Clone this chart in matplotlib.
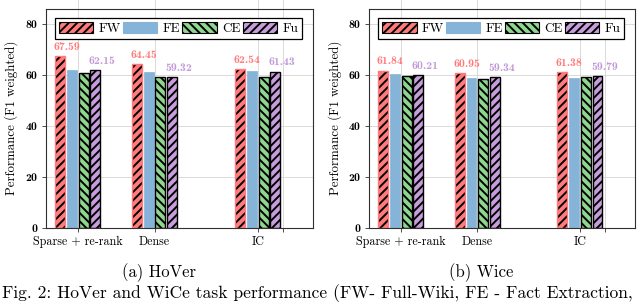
import matplotlib
matplotlib.use("Agg")
import matplotlib.pyplot as plt
from matplotlib.patches import Patch
import numpy as np

# ---------------- data ----------------
categories = ["Sparse + re-rank", "Dense", "IC", ""]
series_names = ["FW", "FE", "CE", "Fu"]

hover_fw = [67.59, 64.45, 62.54]
hover_fe = [62.0, 61.1, 61.8]
hover_ce = [60.9, 59.4, 59.2]
hover_fu = [62.15, 59.32, 61.43]

wice_fw = [61.84, 60.95, 61.38]
wice_fe = [60.4, 59.0, 59.1]
wice_ce = [59.7, 58.5, 59.4]
wice_fu = [60.21, 59.34, 59.79]

yticks = [0, 20, 40, 60, 80]
ylabel = "Performance (F1 weighted)"
sub_captions = ["(a) HoVer", "(b) Wice"]
fig_caption = "Fig. 2: HoVer and WiCe task performance (FW- Full-Wiki, FE - Fact Extraction,"

# ---------------- style ----------------
plt.rcParams["font.family"] = ["cmr10", "DejaVu Serif"]
plt.rcParams["axes.formatter.use_mathtext"] = True
plt.rcParams["hatch.linewidth"] = 1.4

group_pos = np.array([0.0, 1.0, 2.34, 2.67])
bar_w = 0.13
pitch = 0.153
C_FW = "#ff7b7b"
C_FE = "#86b3d8"
C_CE = "#8fd68f"
C_FU = "#c79ddc"
C_FU_TXT = "#c29ad8"
GRID = "#d4d4d4"
SPINE = "#303030"
BOLD = ["cmb10", "DejaVu Serif"]
H_FWD = "////"
H_BWD = "\\\\\\\\"

fig = plt.figure(figsize=(6.4, 3.03), dpi=100)
ax_l = fig.add_axes([0.0714, 0.2475, 0.4177, 0.7244])
ax_r = fig.add_axes([0.5766, 0.2475, 0.4156, 0.7244])


def draw_panel(ax, fw, fe, ce, fu):
    n = len(fw)
    xs = group_pos[:n]
    offs = (np.arange(4) - 1.5) * pitch
    # FW: hatch black, outline salmon
    ax.bar(xs + offs[0], fw, bar_w, color=C_FW, edgecolor="black",
           hatch=H_FWD, linewidth=0, zorder=2)
    ax.bar(xs + offs[0], fw, bar_w, fill=False, edgecolor=C_FW,
           linewidth=1.0, zorder=3)
    ax.bar(xs + offs[1], fe, bar_w, color=C_FE, edgecolor=C_FE,
           linewidth=0.5, zorder=2)
    ax.bar(xs + offs[2], ce, bar_w, color=C_CE, edgecolor="black",
           hatch=H_BWD, linewidth=1.0, zorder=2)
    ax.bar(xs + offs[3], fu, bar_w, color=C_FU, edgecolor="black",
           hatch=H_FWD, linewidth=1.0, zorder=2)

    for x, v in zip(xs + offs[0], fw):
        ax.annotate(f"{v:.2f}", (x, v), xytext=(5, 3), textcoords="offset points",
                    ha="center", va="bottom", color=C_FW, fontsize=8.5,
                    family=BOLD)
    for x, v in zip(xs + offs[3], fu):
        ax.annotate(f"{v:.2f}", (x, v), xytext=(5, 3), textcoords="offset points",
                    ha="center", va="bottom", color=C_FU_TXT, fontsize=8.5,
                    family=BOLD)

    ax.set_xlim(-0.416, 3.06)
    ax.set_ylim(0, 86.2)
    ax.set_yticks(yticks)
    ax.set_yticklabels([str(t) for t in yticks], family=BOLD, fontsize=8.5)
    ax.set_xticks(group_pos)
    ax.set_xticklabels(categories, fontsize=8.7)
    ax.tick_params(axis="both", direction="out", length=3, width=0.6,
                   color=SPINE, pad=3)
    ax.yaxis.grid(True, color=GRID, linewidth=0.6, zorder=0)
    ax.set_axisbelow(True)
    for gx in group_pos:
        ax.axvline(gx, ymin=0, ymax=1.04, color=GRID, linewidth=0.6,
                   zorder=0.5, clip_on=False)
    for s in ax.spines.values():
        s.set_color(SPINE)
        s.set_linewidth(0.8)
    ax.set_ylabel(ylabel, fontsize=9.3, labelpad=5)

    handles = [
        Patch(facecolor=C_FW, edgecolor="black", hatch=H_FWD, linewidth=0.8),
        Patch(facecolor=C_FE, edgecolor=C_FE, linewidth=0.8),
        Patch(facecolor=C_CE, edgecolor="black", hatch=H_BWD, linewidth=0.8),
        Patch(facecolor=C_FU, edgecolor="black", hatch=H_FWD, linewidth=0.8),
    ]
    leg = ax.legend(handles, series_names, ncol=4, mode="expand",
                    bbox_to_anchor=(0.035, 0.861, 0.924, 0.109), loc="lower left",
                    fontsize=9.5, frameon=True, fancybox=False, framealpha=1,
                    edgecolor="black", handlelength=2.6, handleheight=0.8,
                    handletextpad=0.4, borderpad=0.3, borderaxespad=0,
                    columnspacing=0.6)
    leg.get_frame().set_linewidth(0.9)
    leg.set_zorder(5)


draw_panel(ax_l, hover_fw, hover_fe, hover_ce, hover_fu)
draw_panel(ax_r, wice_fw, wice_fe, wice_ce, wice_fu)

fig.text(159 / 640, 1 - 273 / 303, sub_captions[0], ha="center", va="center",
         fontsize=12)
fig.text(481 / 640, 1 - 273 / 303, sub_captions[1], ha="center", va="center",
         fontsize=12)
fig.text(2 / 640, 1 - 293 / 303, fig_caption, ha="left", va="center", fontsize=12.6)

fig.savefig("out.png", dpi=100)
